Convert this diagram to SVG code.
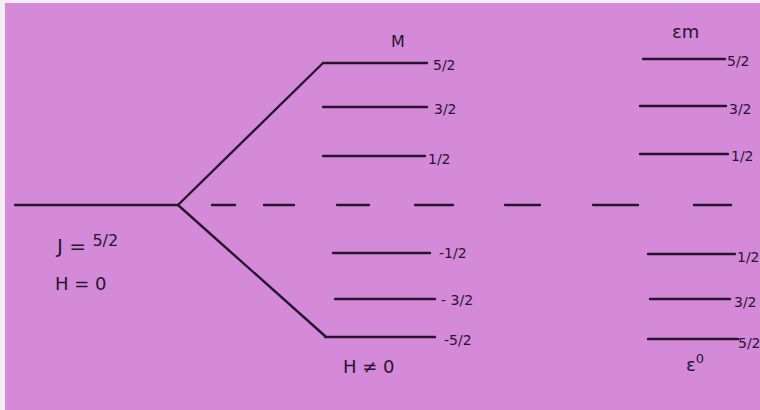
<svg xmlns="http://www.w3.org/2000/svg" width="760" height="410" viewBox="0 0 760 410">
<style>
.ln{stroke:#26162e;stroke-width:2.4;fill:none;stroke-linecap:round}
.t{font-family:"DejaVu Sans","Liberation Sans",sans-serif;fill:#26162e;font-size:14px}
.big{font-size:18px}
.j{font-size:20px}
.m{font-size:16px}
</style>
<rect x="0" y="0" width="760" height="410" fill="#f4eef4"/>
<rect x="5" y="3" width="755" height="407" fill="#d48ad8"/>
<g id="connectors">
<path class="ln" d="M178 205 L323 63 M178 205 L325 336"/>
<path class="ln" d="M212 205 H235 M264 205 H294 M337 205 H369 M415 205 H453 M505 205 H540 M593 205 H638 M694 205 H731"/>
</g>
<g id="level-zero">
<path class="ln" d="M15 205 H178"/>
<text class="t j" x="57" y="253">J = <tspan style="font-size:16px" dy="-7">5/2</tspan></text>
<text class="t big" x="55" y="290">H = 0</text>
</g>
<g id="col-m">
<text class="t m" x="391" y="47">M</text>
<text class="t big" x="343" y="373">H ≠ 0</text>
</g>
<g id="m-5-2"><path class="ln" d="M323 63 H427"/><text class="t" x="433" y="70">5/2</text></g>
<g id="m-3-2"><path class="ln" d="M323 107 H427"/><text class="t" x="434" y="114">3/2</text></g>
<g id="m-1-2"><path class="ln" d="M323 156 H425"/><text class="t" x="428" y="164">1/2</text></g>
<g id="m-neg1-2"><path class="ln" d="M333 253 H430"/><text class="t" x="439" y="258">-1/2</text></g>
<g id="m-neg3-2"><path class="ln" d="M335 299 H435"/><text class="t" x="441" y="305">- 3/2</text></g>
<g id="m-neg5-2"><path class="ln" d="M325 337 H435"/><text class="t" x="444" y="345">-5/2</text></g>
<g id="col-e">
<text class="t big" x="672" y="38">εm</text>
<text class="t big" x="686" y="371">ε<tspan style="font-size:13px" dy="-8">0</tspan></text>
</g>
<g id="e-5-2"><path class="ln" d="M643 59 H725"/><text class="t" x="727" y="66">5/2</text></g>
<g id="e-3-2"><path class="ln" d="M640 106 H726"/><text class="t" x="729" y="114">3/2</text></g>
<g id="e-1-2"><path class="ln" d="M640 154 H728"/><text class="t" x="731" y="161">1/2</text></g>
<g id="e-1-2b"><path class="ln" d="M648 254 H735"/><text class="t" x="737" y="262">1/2</text></g>
<g id="e-3-2b"><path class="ln" d="M650 299 H730"/><text class="t" x="734" y="307">3/2</text></g>
<g id="e-5-2b"><path class="ln" d="M648 339 H738"/><text class="t" x="738" y="348">5/2</text></g>
</svg>
